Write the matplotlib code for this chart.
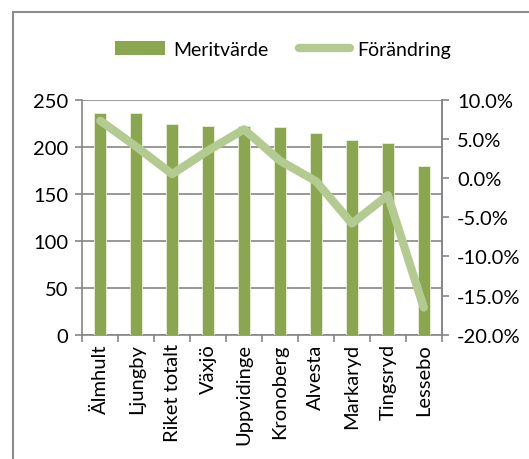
import matplotlib.pyplot as plt
import numpy as np
from matplotlib.lines import Line2D
from matplotlib.patches import Patch
from matplotlib.ticker import FuncFormatter, MultipleLocator

plt.rcParams['font.family'] = ['Lato', 'DejaVu Sans']
plt.rcParams['axes.unicode_minus'] = False

kommuner = ["Älmhult", "Ljungby", "Riket totalt", "Växjö", "Uppvidinge",
            "Kronoberg", "Alvesta", "Markaryd", "Tingsryd", "Lessebo"]
meritvarde = [235.5, 235.5, 223.5, 222, 222, 221, 214, 207.5, 204, 179.5]
forandring = [0.073, 0.040, 0.005, 0.035, 0.062, 0.022, -0.004, -0.058, -0.022, -0.165]

bar_color = "#8aa64e"
line_color = "#b3cb91"
grid_color = "#868686"
fs = 14.5

fig = plt.figure(figsize=(5.29, 4.60), dpi=100)
ax = fig.add_axes([0.1556, 0.2696, 0.6794, 0.5119])
x = np.arange(len(kommuner))

ax.bar(x, meritvarde, width=0.33, color=bar_color, edgecolor="#e9efde",
       linewidth=0.6, zorder=3)
ax.set_xlim(-0.5, len(kommuner) - 0.5)
ax.set_ylim(0, 250)
ax.yaxis.set_major_locator(MultipleLocator(50))
ax.grid(axis="y", color=grid_color, linewidth=1.2, zorder=0)
ax.set_axisbelow(True)
ax.set_xticks(x)
ax.set_xticklabels(kommuner, rotation=90)
ax.set_xticks(np.arange(-0.5, len(kommuner)), minor=True)
ax.tick_params(axis="x", which="major", length=0, pad=6)
ax.tick_params(axis="x", which="minor", length=5, color=grid_color, width=1.2)
ax.tick_params(axis="y", length=5, color=grid_color, width=1.2, pad=5)
ax.tick_params(labelsize=fs)
ax.spines["top"].set_visible(False)
for s in ["left", "bottom", "right"]:
    ax.spines[s].set_color(grid_color)
    ax.spines[s].set_linewidth(1.2)

ax2 = ax.twinx()
ax2.plot(x, forandring, color=line_color, linewidth=6, solid_capstyle="round",
         solid_joinstyle="round", zorder=4)
ax2.set_ylim(-0.2, 0.1)
ax2.yaxis.set_major_locator(MultipleLocator(0.05))
ax2.yaxis.set_major_formatter(FuncFormatter(lambda v, p: f"{v*100:.1f}%"))
ax2.tick_params(axis="y", length=5, color=grid_color, width=1.2, pad=6, labelsize=fs)
for s in ["top", "left", "bottom"]:
    ax2.spines[s].set_visible(False)
ax2.spines["right"].set_color(grid_color)
ax2.spines["right"].set_linewidth(1.2)

handles = [Patch(facecolor=bar_color, edgecolor="none"),
           Line2D([0], [0], color=line_color, linewidth=6, solid_capstyle="round")]
fig.legend(handles, ["Meritvärde", "Förändring"], loc="center",
           bbox_to_anchor=(0.535, 0.891), ncol=2, frameon=False, fontsize=14,
           handlelength=2.6, handletextpad=0.4, columnspacing=1.6)

# outer chart frame
fig.add_artist(Line2D([13 / 529, 13 / 529], [1 - 13 / 460, 0], color="#8c8c8c",
                      linewidth=1.5, transform=fig.transFigure))
fig.add_artist(Line2D([13 / 529, 1], [1 - 13 / 460, 1 - 13 / 460], color="#8c8c8c",
                      linewidth=1.5, transform=fig.transFigure))

plt.savefig("out.png", dpi=100)
